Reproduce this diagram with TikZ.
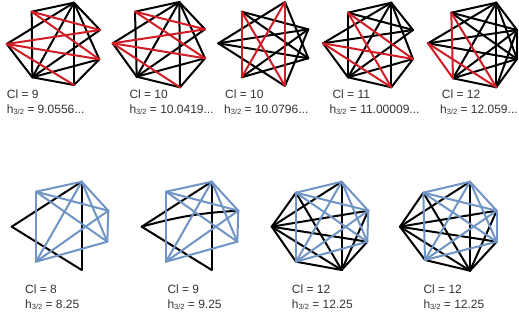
\documentclass[tikz,border=0pt]{standalone}
\usepackage{fontspec}
\setmainfont{Liberation Sans}
\definecolor{redE}{RGB}{208,28,36}
\definecolor{blueE}{RGB}{112,148,196}
\newcommand{\hlab}[1]{h\raisebox{-1.3pt}{\fontsize{7.5}{7.5}\selectfont 3/2} = #1}
\tikzset{
  blk/.style={draw=black, line width=2pt, line cap=round, line join=round},
  rd/.style={blk, draw=redE},
  bl/.style={blk, draw=blueE},
  lab/.style={anchor=base west, inner sep=0pt, font=\fontsize{12}{12}\selectfont, text=black!80}
}
\begin{document}
\begin{tikzpicture}[x=1pt,y=-1pt]
\useasboundingbox (0,0) rectangle (519,320);
% ---------- vertices ----------
% G1
\coordinate (g1T) at (74,2.7);   \coordinate (g1UL) at (31.7,11.7); \coordinate (g1R1) at (100,30);
\coordinate (g1L) at (6.7,44);   \coordinate (g1R2) at (99.3,59.3); \coordinate (g1BL) at (32.3,77.3);
\coordinate (g1B) at (74,85);
% G2
\coordinate (g2T) at (179.3,2);  \coordinate (g2UL) at (135,11.7);  \coordinate (g2R1) at (205,29.3);
\coordinate (g2L) at (112.7,43.3); \coordinate (g2R2) at (205,58.3); \coordinate (g2BL) at (136.7,76.7);
\coordinate (g2B) at (180,87.3);
% G3
\coordinate (g3T) at (285,2);    \coordinate (g3UL) at (241.7,11.7); \coordinate (g3R1) at (308.3,29.3);
\coordinate (g3L) at (218.3,43.3); \coordinate (g3R2) at (308.3,58.3); \coordinate (g3BL) at (241.7,77.3);
\coordinate (g3B) at (285,86);
% G4
\coordinate (g4T) at (391.3,2.7); \coordinate (g4UL) at (348,12.7); \coordinate (g4R1) at (413,30);
\coordinate (g4L) at (323,43.3);  \coordinate (g4R2) at (413,59);   \coordinate (g4BL) at (348,77.3);
\coordinate (g4B) at (391.3,87.3);
% G5
\coordinate (g5T) at (496.3,2.7); \coordinate (g5UL) at (451.3,12.7); \coordinate (g5R1) at (517,30);
\coordinate (g5L) at (428,43.3);  \coordinate (g5R2) at (517,59);   \coordinate (g5BL) at (453,78.3);
\coordinate (g5B) at (496.3,87.3);
% G6
\coordinate (g6T) at (81.7,181.7); \coordinate (g6UL) at (36,191.7); \coordinate (g6R1) at (108.3,210.7);
\coordinate (g6R2) at (107.3,241.7); \coordinate (g6BL) at (36,261.7); \coordinate (g6B) at (81.7,270);
\coordinate (g6L) at (11.7,226.7);
% G7
\coordinate (g7T) at (211.7,181.7); \coordinate (g7UL) at (166,191.7); \coordinate (g7R1) at (238.3,210.7);
\coordinate (g7R2) at (237.3,241.7); \coordinate (g7BL) at (166,261.7); \coordinate (g7B) at (211.7,270);
\coordinate (g7L) at (141.7,226.7);
% G8
\coordinate (g8T) at (341.7,181.7); \coordinate (g8UL) at (296,192.7); \coordinate (g8R1) at (368.3,210.7);
\coordinate (g8R2) at (367.3,241.7); \coordinate (g8BL) at (296,261.7); \coordinate (g8B) at (341.7,270);
\coordinate (g8L) at (271.7,226.7);
% G9
\coordinate (g9T) at (470,181.7); \coordinate (g9UL) at (423.3,192.7); \coordinate (g9R1) at (496.7,210.7);
\coordinate (g9R2) at (496.7,241.7); \coordinate (g9BL) at (425,260); \coordinate (g9B) at (470,270.7);
\coordinate (g9L) at (400,226.7);
% ---------- edges ----------
% G1, G2
\foreach \g in {g1,g2}{
  \foreach \a/\b in {UL/T, T/R1, UL/BL, L/T, L/BL, T/BL, T/B, T/R2, BL/R1, BL/R2, BL/B, R2/B}
    \draw[blk] (\g\a) -- (\g\b);
  \foreach \a/\b in {UL/R1, UL/R2, L/R1, L/R2, L/B}
    \draw[rd] (\g\a) -- (\g\b);
}
% G3
\foreach \a/\b in {L/T, UL/R1, T/R2, R1/B, R2/BL, L/B, L/R1, UL/R2, R1/BL, L/R2}
  \draw[blk] (g3\a) -- (g3\b);
\foreach \a/\b in {UL/BL, T/B, UL/B, T/BL}
  \draw[rd] (g3\a) -- (g3\b);
% G4
\foreach \a/\b in {UL/T, T/R1, UL/BL, T/B, L/T, L/R1, L/BL, BL/B, BL/R1, B/R2, UL/R1, T/BL, T/R2, BL/R2}
  \draw[blk] (g4\a) -- (g4\b);
\foreach \a/\b in {UL/R2, UL/B, L/R2, L/B}
  \draw[rd] (g4\a) -- (g4\b);
% G5
\foreach \a/\b in {UL/T, T/R1, R1/R2, R2/B, B/BL, L/T, L/R1, L/R2, UL/R1, UL/R2, T/R2, T/B, T/BL, R1/B, R1/BL, R2/BL}
  \draw[blk] (g5\a) -- (g5\b);
\foreach \a/\b in {UL/BL, UL/B, L/BL, L/B}
  \draw[rd] (g5\a) -- (g5\b);
% G6, G7
\foreach \g in {g6,g7}{
  \foreach \a/\b in {L/T, L/B, T/B}
    \draw[blk] (\g\a) -- (\g\b);
}
\draw[blk] (g7L) to[bend left=6] (g7R1);
% G8, G9
\foreach \g in {g8,g9}{
  \foreach \a/\b in {L/UL, L/T, L/R1, L/R2, L/BL, L/B, B/UL, B/T, B/R1, B/R2, B/BL}
    \draw[blk] (\g\a) -- (\g\b);
}
% blue K5
\foreach \g in {g6,g7,g8,g9}{
  \foreach \a/\b in {UL/T, T/R1, R1/R2, R2/BL, BL/UL, UL/R1, UL/R2, T/R2, T/BL, BL/R1}
    \draw[bl] (\g\a) -- (\g\b);
}
% ---------- labels ----------
\node[lab] (c1) at (6.7,99) {Cl = 9};
\node[lab] (h1) at (6.7,113.5) {\hlab{9.0556...}};
\node[lab] (c2) at (129.3,99) {Cl = 10};
\node[lab] (h2) at (129.3,113.5) {\hlab{10.0419...}};
\node[lab] (c3) at (225,99) {Cl = 10};
\node[lab] (h3) at (224,113.5) {\hlab{10.0796...}};
\node[lab] (c4) at (332.3,99) {Cl = 11};
\node[lab] (h4) at (329.3,113.5) {\hlab{11.00009...}};
\node[lab] (c5) at (441.7,99) {Cl = 12};
\node[lab] (h5) at (440,113.5) {\hlab{12.059...}};
\node[lab] (c6) at (25,294) {Cl = 8};
\node[lab] (h6) at (25,308.5) {\hlab{8.25}};
\node[lab] (c7) at (167.3,294) {Cl = 9};
\node[lab] (h7) at (167.3,308.5) {\hlab{9.25}};
\node[lab] (c8) at (291.7,294) {Cl = 12};
\node[lab] (h8) at (291.7,308.5) {\hlab{12.25}};
\node[lab] (c9) at (423.3,294) {Cl = 12};
\node[lab] (h9) at (423.3,308.5) {\hlab{12.25}};
\end{tikzpicture}
\end{document}
